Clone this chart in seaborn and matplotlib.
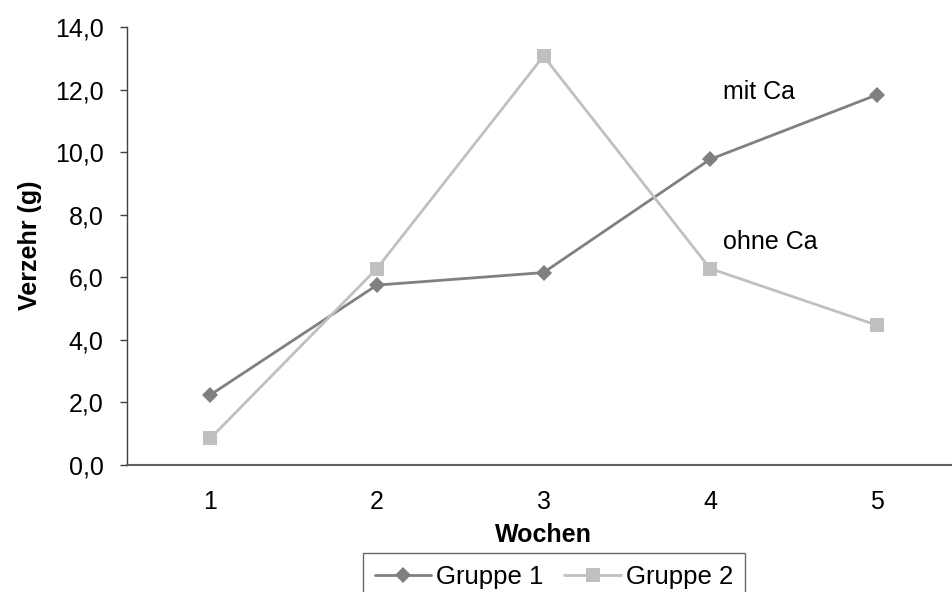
import matplotlib
matplotlib.use("Agg")
import matplotlib.pyplot as plt
import seaborn as sns
import pandas as pd

weeks = [1, 2, 3, 4, 5]
gruppe_1 = [2.24, 5.75, 6.15, 9.77, 11.83]
gruppe_2 = [0.85, 6.28, 13.07, 6.28, 4.47]
series_names = ["Gruppe 1", "Gruppe 2"]
y_ticks = [0, 2, 4, 6, 8, 10, 12, 14]

sns.set_theme(style="white")
plt.rcParams["font.family"] = ["Liberation Sans", "DejaVu Sans"]
plt.rcParams["text.color"] = "black"
plt.rcParams["axes.labelcolor"] = "black"

df = pd.DataFrame({
    "Wochen": weeks * 2,
    "Verzehr": gruppe_1 + gruppe_2,
    "Gruppe": [series_names[0]] * 5 + [series_names[1]] * 5,
})

fig = plt.figure(figsize=(9.52, 5.92), dpi=100)
ax = fig.add_axes([127 / 952, 1 - 465 / 592, (960 - 127) / 952, (465 - 27) / 592])

palette = {series_names[0]: "#808080", series_names[1]: "#c0c0c0"}
markers = {series_names[0]: "D", series_names[1]: "s"}
sizes = {series_names[0]: 8.5, series_names[1]: 10}

for name in series_names:
    sub = df[df["Gruppe"] == name]
    sns.lineplot(data=sub, x="Wochen", y="Verzehr", ax=ax, color=palette[name],
                 marker=markers[name], markersize=sizes[name], markeredgewidth=0,
                 linewidth=2.0, label=name, legend=False)

ax.set_xlim(0.5, 5.5)
ax.set_ylim(0, 14)
ax.set_yticks(y_ticks)
ax.set_yticklabels([f"{v:.1f}".replace(".", ",") for v in y_ticks])
ax.set_xticks(weeks)
ax.set_xticklabels([str(w) for w in weeks])
ax.set_xticks([w - 0.5 for w in weeks] + [5.5], minor=True)
ax.tick_params(axis="x", which="major", length=0, pad=18, labelsize=18, labelcolor="black")
ax.tick_params(axis="x", which="minor", length=7, width=1, color="#404040", direction="out")
ax.tick_params(axis="y", which="major", length=5, width=1, color="#404040",
               direction="out", left=True, pad=12, labelsize=18, labelcolor="black")

for side in ["top", "right"]:
    ax.spines[side].set_visible(False)
ax.spines["left"].set_color("#404040")
ax.spines["bottom"].set_color("#606060")
ax.spines["left"].set_linewidth(1.0)
ax.spines["bottom"].set_linewidth(1.5)

ax.set_xlabel("")
ax.set_ylabel("")
fig.text(30 / 952, 1 - 245 / 592, "Verzehr (g)", rotation=90, ha="center", va="center",
         fontsize=18, fontweight="bold", color="black")
fig.text(543 / 952, 1 - 535 / 592, "Wochen", ha="center", va="center",
         fontsize=18, fontweight="bold", color="black")

ax.text(4.08, 11.92, "mit Ca", fontsize=18, ha="left", va="center", color="black")
ax.text(4.08, 7.13, "ohne Ca", fontsize=18, ha="left", va="center", color="black")

leg = fig.legend(loc="upper center", bbox_to_anchor=(554 / 952, 1 - 553 / 592),
                 ncol=2, fontsize=18.5, frameon=True, fancybox=False, handlelength=2.2,
                 handletextpad=0.2, columnspacing=0.8, borderpad=0.45, borderaxespad=0)
leg.get_frame().set_edgecolor("#404040")
leg.get_frame().set_linewidth(1.0)
for t in leg.get_texts():
    t.set_color("black")

fig.savefig("out.png", dpi=100)
